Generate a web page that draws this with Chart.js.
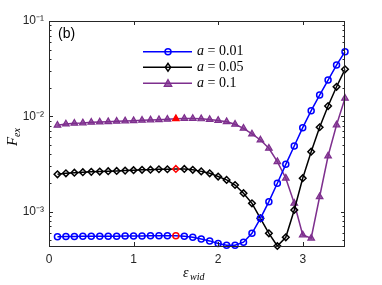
<!DOCTYPE html>
<html>
<head>
<meta charset="utf-8">
<script src="https://cdn.jsdelivr.net/npm/chart.js@4"></script>
<style>
  html, body { margin: 0; padding: 0; background: #fff; }
  #wrap { width: 382px; height: 285px; }
</style>
</head>
<body>
<div id="wrap"><canvas id="fexChart" width="382" height="285"></canvas></div>
<script>
// Data
const epsWid = [0.1, 0.2, 0.3, 0.4, 0.5, 0.6, 0.7, 0.8, 0.9, 1.0,
  1.1, 1.2, 1.3, 1.4, 1.5, 1.6, 1.7, 1.8, 1.9, 2.0,
  2.1, 2.2, 2.3, 2.4, 2.5, 2.6, 2.7, 2.8, 2.9, 3.0,
  3.1, 3.2, 3.3, 3.4, 3.5];

const fexA001 = [5.45e-4, 5.47e-4, 5.48e-4, 5.49e-4, 5.50e-4, 5.50e-4, 5.51e-4, 5.52e-4, 5.53e-4, 5.54e-4,
  5.55e-4, 5.56e-4, 5.57e-4, 5.58e-4, 5.58e-4, 5.50e-4, 5.37e-4, 5.16e-4, 4.92e-4, 4.63e-4,
  4.43e-4, 4.43e-4, 4.77e-4, 5.91e-4, 8.50e-4, 1.27e-3, 1.98e-3, 3.13e-3, 4.88e-3, 7.59e-3,
  1.145e-2, 1.67e-2, 2.40e-2, 3.45e-2, 4.76e-2];

const fexA005 = [2.46e-3, 2.52e-3, 2.56e-3, 2.59e-3, 2.61e-3, 2.63e-3, 2.65e-3, 2.67e-3, 2.69e-3, 2.72e-3,
  2.74e-3, 2.75e-3, 2.78e-3, 2.78e-3, 2.80e-3, 2.80e-3, 2.74e-3, 2.64e-3, 2.52e-3, 2.33e-3,
  2.15e-3, 1.90e-3, 1.56e-3, 1.22e-3, 8.50e-4, 5.91e-4, 4.35e-4, 5.37e-4, 1.04e-3, 2.24e-3,
  4.25e-3, 7.67e-3, 1.28e-2, 2.04e-2, 3.11e-2];

const fexA01 = [8.05e-3, 8.30e-3, 8.45e-3, 8.51e-3, 8.65e-3, 8.71e-3, 8.77e-3, 8.87e-3, 8.93e-3, 8.99e-3,
  9.08e-3, 9.15e-3, 9.21e-3, 9.31e-3, 9.44e-3, 9.50e-3, 9.45e-3, 9.40e-3, 9.25e-3, 9.05e-3,
  8.77e-3, 8.24e-3, 7.48e-3, 6.52e-3, 5.64e-3, 4.61e-3, 3.34e-3, 2.24e-3, 1.22e-3, 5.68e-4,
  5.25e-4, 1.43e-3, 3.83e-3, 8.11e-3, 1.545e-2];

const seriesNames = ['0.01', '0.05', '0.1'];
const xTicks = [0, 1, 2, 3];
const yMajor = [1e-3, 1e-2, 1e-1];
const yMajorLabels = ['10\u207B\u00B3', '10\u207B\u00B2', '10\u207B\u00B9'];
const highlightEps = 1.5;

const BLUE = '#0000ff';
const BLACK = '#000000';
const PURPLE = '#7e2f8e';
const RED = '#ff0000';
const AXIS = '#262626';

function pts(ys) {
  return epsWid.map((e, i) => ({ x: e, y: ys[i] }));
}
function edge(color) {
  return epsWid.map(e => (e === highlightEps ? RED : color));
}

// minor + major log ticks between min and max
function logTicks(min, max) {
  const out = [];
  for (let d = -4; d <= -1; d++) {
    for (let k = 1; k <= 9; k++) {
      const v = k * Math.pow(10, d);
      if (v >= min * 0.9999 && v <= max * 1.0001) out.push(v);
    }
  }
  return out;
}

function drawMarker(ctx, style, x, y, r) {
  if (style === 'circle') {
    ctx.arc(x, y, r, 0, Math.PI * 2);
  } else if (style === 'rectRot') {
    ctx.moveTo(x, y - r * 1.2); ctx.lineTo(x + r * 0.8, y);
    ctx.lineTo(x, y + r * 1.2); ctx.lineTo(x - r * 0.8, y);
    ctx.closePath();
  } else {
    ctx.moveTo(x, y - r); ctx.lineTo(x + r, y + r * 0.8);
    ctx.lineTo(x - r, y + r * 0.8); ctx.closePath();
  }
}

// inward ticks, box, labels and legend
const frame = {
  id: 'frame',
  afterDraw(chart) {
    const { ctx, chartArea, scales } = chart;
    const { left, right, top, bottom } = chartArea;
    const xs = scales.x, ys = scales.y;
    ctx.save();
    ctx.strokeStyle = AXIS;
    ctx.lineWidth = 1;
    ctx.strokeRect(Math.round(left) + 0.5, Math.round(top) + 0.5,
      Math.round(right - left) - 1, Math.round(bottom - top));

    ctx.beginPath();
    xTicks.forEach(v => {
      const px = Math.round(xs.getPixelForValue(v)) + 0.5;
      if (px <= left + 1 || px >= right - 1) return;
      ctx.moveTo(px, bottom); ctx.lineTo(px, bottom - 4);
      ctx.moveTo(px, top); ctx.lineTo(px, top + 4);
    });
    logTicks(ys.min, ys.max).forEach(v => {
      const py = Math.round(ys.getPixelForValue(v)) + 0.5;
      const major = yMajor.some(m => Math.abs(m - v) / m < 1e-6);
      const len = major ? 4 : 2.5;
      ctx.moveTo(left, py); ctx.lineTo(left + len, py);
      ctx.moveTo(right, py); ctx.lineTo(right - len, py);
    });
    ctx.stroke();

    // panel label
    ctx.fillStyle = '#000';
    ctx.font = '14px "Liberation Sans", Arial, sans-serif';
    ctx.textBaseline = 'middle';
    ctx.textAlign = 'left';
    ctx.fillText('(b)', 58, 34);

    // axis titles
    ctx.font = 'italic 14px "Liberation Serif", "DejaVu Serif", serif';
    ctx.textBaseline = 'alphabetic';
    ctx.fillText('\u03B5', 183, 277);
    ctx.font = 'italic 10px "Liberation Serif", "DejaVu Serif", serif';
    ctx.fillText('wid', 190, 280);

    ctx.save();
    ctx.translate(17, 136);
    ctx.rotate(-Math.PI / 2);
    ctx.font = 'italic 15px "Liberation Serif", "DejaVu Serif", serif';
    ctx.fillText('F', -10, 0);
    ctx.font = 'italic 10px "Liberation Serif", "DejaVu Serif", serif';
    ctx.fillText('ex', -1, 3);
    ctx.restore();

    // legend
    const rows = [51.7, 67.3, 83.3];
    chart.data.datasets.forEach((ds, i) => {
      const y = rows[i];
      ctx.strokeStyle = ds.borderColor;
      ctx.lineWidth = 1.5;
      ctx.beginPath();
      ctx.moveTo(143, y); ctx.lineTo(192, y);
      ctx.stroke();
      ctx.fillStyle = ds.legendFill;
      ctx.lineWidth = ds.pointBorderWidth;
      ctx.beginPath();
      drawMarker(ctx, ds.pointStyle, 168, y, ds.pointRadius);
      if (ds.legendFill !== 'transparent') ctx.fill();
      ctx.stroke();

      ctx.fillStyle = '#000';
      ctx.textBaseline = 'middle';
      ctx.font = 'italic 14px "Liberation Serif", "DejaVu Serif", serif';
      ctx.fillText('a', 197, y);
      const w = ctx.measureText('a').width;
      ctx.font = '14px "Liberation Serif", "DejaVu Serif", serif';
      ctx.fillText(' = ' + seriesNames[i], 197 + w, y);
    });
    ctx.restore();
  }
};

const fontTicks = { family: '"Liberation Sans", Arial, sans-serif', size: 12 };

new Chart(document.getElementById('fexChart'), {
  type: 'line',
  data: {
    datasets: [{
      label: 'a = 0.01',
      data: pts(fexA001),
      borderColor: BLUE,
      borderWidth: 1.5,
      pointStyle: 'circle',
      pointRadius: 3,
      pointBorderWidth: 1.5,
      pointBorderColor: edge(BLUE),
      pointBackgroundColor: 'rgba(0,0,0,0)',
      legendFill: 'transparent',
      clip: false
    }, {
      label: 'a = 0.05',
      data: pts(fexA005),
      borderColor: BLACK,
      borderWidth: 1.5,
      pointStyle: 'rectRot',
      pointRadius: 3.3,
      pointBorderWidth: 1.5,
      pointBorderColor: edge(BLACK),
      pointBackgroundColor: 'rgba(0,0,0,0)',
      legendFill: 'transparent',
      clip: false
    }, {
      label: 'a = 0.1',
      data: pts(fexA01),
      borderColor: PURPLE,
      borderWidth: 1.5,
      pointStyle: 'triangle',
      pointRadius: 3.8,
      pointBorderWidth: 1.2,
      pointBorderColor: edge(PURPLE),
      pointBackgroundColor: epsWid.map(e => (e === highlightEps ? RED : 'rgba(126,47,142,0.75)')),
      legendFill: 'rgba(126,47,142,0.75)',
      clip: false
    }]
  },
  options: {
    responsive: false,
    animation: false,
    layout: { padding: { top: 21, right: 37, left: 0, bottom: 0 } },
    plugins: {
      legend: { display: false },
      tooltip: { enabled: false }
    },
    scales: {
      x: {
        type: 'linear',
        min: 0,
        max: 3.5,
        afterBuildTicks: s => { s.ticks = xTicks.map(v => ({ value: v })); },
        afterFit: s => { s.height = 39; },
        grid: { display: false, drawTicks: false },
        border: { display: false },
        ticks: { color: AXIS, font: fontTicks, padding: 6, autoSkip: false, maxRotation: 0 }
      },
      y: {
        type: 'logarithmic',
        min: 4.35e-4,
        max: 1e-1,
        afterBuildTicks: s => { s.ticks = yMajor.map(v => ({ value: v })); },
        afterFit: s => { s.width = 49; },
        grid: { display: false, drawTicks: false },
        border: { display: false },
        ticks: {
          color: AXIS,
          font: fontTicks,
          padding: 5,
          autoSkip: false,
          callback: (v) => {
            const i = yMajor.findIndex(m => Math.abs(m - v) / m < 1e-6);
            return i >= 0 ? yMajorLabels[i] : '';
          }
        }
      }
    }
  },
  plugins: [frame]
});
</script>
</body>
</html>
